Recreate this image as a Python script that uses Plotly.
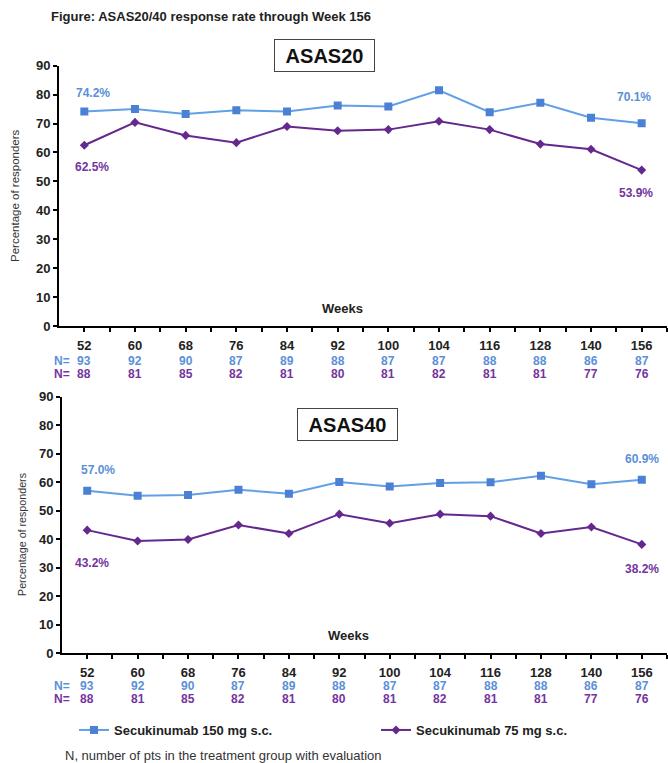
import plotly.graph_objects as go

weeks = ["52", "60", "68", "76", "84", "92", "100", "104", "116", "128", "140", "156"]
asas20_150 = [74.2, 75.0, 73.3, 74.6, 74.2, 76.2, 75.9, 81.5, 73.9, 77.2, 72.0, 70.1]
asas20_75 = [62.5, 70.4, 65.9, 63.4, 69.0, 67.5, 67.9, 70.8, 67.9, 62.9, 61.1, 53.9]
asas40_150 = [57.0, 55.3, 55.5, 57.4, 56.0, 60.1, 58.5, 59.7, 60.0, 62.3, 59.3, 60.9]
asas40_75 = [43.2, 39.4, 39.9, 45.0, 42.0, 48.8, 45.6, 48.8, 48.1, 42.0, 44.3, 38.2]
n_150 = [93, 92, 90, 87, 89, 88, 87, 87, 88, 88, 86, 87]
n_75 = [88, 81, 85, 82, 81, 80, 81, 82, 81, 81, 77, 76]
y_ticks = [0, 10, 20, 30, 40, 50, 60, 70, 80, 90]

W, H = 668, 763
FONT = "Arial, Liberation Sans, sans-serif"
BLUE_M = "#4b80d4"
BLUE_L = "#62a0e6"
BLUE_T = "#5b90d8"
PURP = "#65288e"
PURP_T = "#7434a0"

def fx(px):
    return px / W

def fy(py):
    return 1 - py / H

idx = list(range(len(weeks)))

fig = go.Figure()

def add_series(vals, xa, ya, name, color_l, color_m, symbol, size, show):
    fig.add_trace(go.Scatter(
        x=idx, y=vals, xaxis=xa, yaxis=ya, mode="lines+markers", name=name,
        line=dict(color=color_l, width=2),
        marker=dict(symbol=symbol, size=size, color=color_m),
        showlegend=show,
    ))

add_series(asas20_150, "x", "y", "Secukinumab 150 mg s.c.", BLUE_L, BLUE_M, "square", 8, True)
add_series(asas20_75, "x", "y", "Secukinumab 75 mg s.c.", PURP, PURP, "diamond", 7, True)
add_series(asas40_150, "x2", "y2", "Secukinumab 150 mg s.c.", BLUE_L, BLUE_M, "square", 8, False)
add_series(asas40_75, "x2", "y2", "Secukinumab 75 mg s.c.", PURP, PURP, "diamond", 7, False)

def xaxis_cfg(x0px, standoff):
    return dict(
        domain=[fx(x0px), fx(667)], range=[-0.5, len(weeks) - 0.5],
        tickmode="array", tickvals=idx, ticktext=weeks,
        showline=True, linecolor="black", linewidth=2,
        ticks="outside", ticklen=4, tickwidth=2, tickcolor="black",
        ticklabelstandoff=standoff,
        minor=dict(tickvals=[i + 0.5 for i in idx], ticks="outside", ticklen=4,
                   tickwidth=2, tickcolor="black"),
        showgrid=False, zeroline=False,
        tickfont=dict(family=FONT, size=13, color="#222222", weight="bold"),
        fixedrange=True,
    )

def yaxis_cfg(top_px, bot_px, anchor):
    return dict(
        domain=[fy(bot_px), fy(top_px)], range=[0, 90],
        tickmode="array", tickvals=y_ticks,
        showline=True, linecolor="black", linewidth=2,
        ticks="outside", ticklen=4, tickwidth=2, tickcolor="black",
        showgrid=False, zeroline=False, anchor=anchor,
        tickfont=dict(family=FONT, size=13, color="#222222", weight="bold"),
        fixedrange=True,
    )

x1 = xaxis_cfg(59, 2); x1["anchor"] = "y"
x2 = xaxis_cfg(62, 2); x2["anchor"] = "y2"

annotations = []

def ann(text, x, y, size=12, color="#222222", bold=True, xref="paper", xanchor="center", **kw):
    annotations.append(dict(
        text=text, x=x, y=y, xref=xref, yref="paper", showarrow=False,
        xanchor=xanchor, yanchor="middle",
        font=dict(family=FONT, size=size, color=color, weight="bold" if bold else "normal"),
        **kw))

# Title
ann("Figure: ASAS20/40 response rate through Week 156", fx(49), fy(17), size=13, xanchor="left")

# Panel boxes
for label, cx, cy in [("ASAS20", 324.5, 55.5), ("ASAS40", 347.5, 424.5)]:
    ann(label, fx(cx), fy(cy), size=20, color="#111111", bordercolor="#444444",
        borderwidth=1, bgcolor="white", width=97, height=29)

# Weeks labels
ann("Weeks", fx(342), fy(308), size=13)
ann("Weeks", fx(348), fy(635), size=13)

# Y titles
ann("Percentage of responders", fx(15), fy(196), size=11.5, color="#333333", bold=False, textangle=-90)
ann("Percentage of responders", fx(22), fy(535), size=10.7, color="#333333", bold=False, textangle=-90)

# Value labels
ann("74.2%", fx(93), fy(93), size=12, color=BLUE_T)
ann("62.5%", fx(92), fy(167), size=12, color=PURP_T)
ann("70.1%", fx(634), fy(97), size=12, color=BLUE_T)
ann("53.9%", fx(636), fy(193), size=12, color=PURP_T)
ann("57.0%", fx(98), fy(470), size=12, color=BLUE_T)
ann("43.2%", fx(92), fy(563), size=12, color=PURP_T)
ann("60.9%", fx(642), fy(459), size=12, color=BLUE_T)
ann("38.2%", fx(642), fy(569), size=12, color=PURP_T)

# N rows
for xref, yb, yp in [("x", 361, 374), ("x2", 686, 699)]:
    ann("N=", fx(72), fy(yb), size=12, color=BLUE_T, xanchor="right")
    ann("N=", fx(72), fy(yp), size=12, color=PURP_T, xanchor="right")
    for i, (a, b) in enumerate(zip(n_150, n_75)):
        ann(str(a), i, fy(yb), size=12, color=BLUE_T, xref=xref)
        ann(str(b), i, fy(yp), size=12, color=PURP_T, xref=xref)

# Footer
ann("N, number of pts in the treatment group with evaluation", fx(63), fy(755), size=13,
    color="#333333", bold=False, xanchor="left")

fig.update_layout(
    width=W, height=H, margin=dict(l=0, r=0, t=0, b=0, autoexpand=False),
    paper_bgcolor="white", plot_bgcolor="white",
    xaxis=x1, yaxis=yaxis_cfg(65.7, 326, "x"),
    xaxis2=x2, yaxis2=yaxis_cfg(396.7, 653.3, "x2"),
    annotations=annotations,
    showlegend=True,
    legend=dict(orientation="h", x=fx(74), y=fy(730), xanchor="left", yanchor="middle",
                entrywidth=257, entrywidthmode="pixels", itemwidth=30,
                font=dict(family=FONT, size=13, color="#222222", weight="bold"),
                bgcolor="rgba(0,0,0,0)"),
)

fig.write_html(
    "out.html",
    config={"displayModeBar": False},
    post_script="document.body.style.margin='0';document.body.style.overflow='hidden';",
)
